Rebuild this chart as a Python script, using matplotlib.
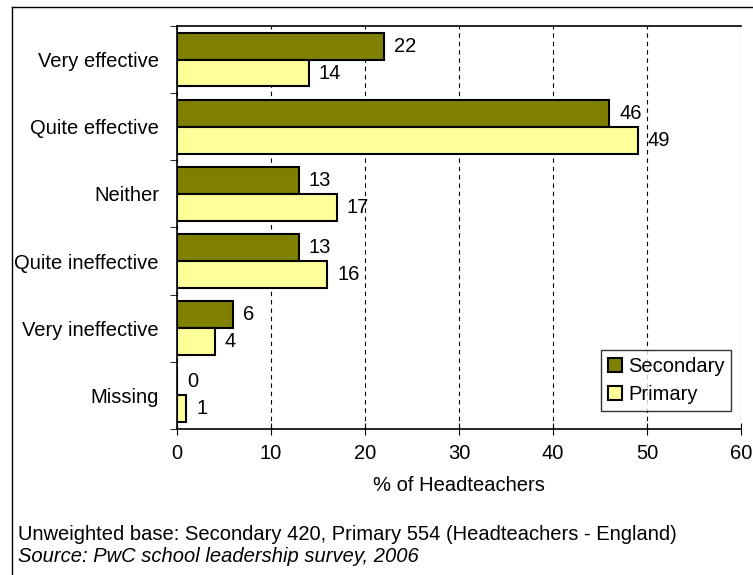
import numpy as np
import matplotlib.pyplot as plt
from matplotlib.lines import Line2D

plt.rcParams['font.family'] = ['Liberation Sans', 'DejaVu Sans']

# data
categories = ["Very effective", "Quite effective", "Neither",
              "Quite ineffective", "Very ineffective", "Missing"]
secondary = [22, 46, 13, 13, 6, 0]
primary = [14, 49, 17, 16, 4, 1]

FS = 14.5

fig = plt.figure(figsize=(7.53, 5.75), dpi=100)
ax = fig.add_axes([0.2351, 0.2539, 0.7490, 0.7009])

y = np.arange(len(categories))
h = 0.4
ax.barh(y - h / 2, secondary, height=h, color="#808000", edgecolor="black",
        linewidth=1.5, label="Secondary")
ax.barh(y + h / 2, primary, height=h, color="#FFFF99", edgecolor="black",
        linewidth=1.5, label="Primary")

# value labels
for i in range(len(categories)):
    ax.annotate(str(secondary[i]), (secondary[i], y[i] - h / 2),
                xytext=(7, 0), textcoords="offset points",
                va="center", ha="left", fontsize=FS)
    ax.annotate(str(primary[i]), (primary[i], y[i] + h / 2),
                xytext=(7, 0), textcoords="offset points",
                va="center", ha="left", fontsize=FS)

ax.set_xlim(0, 60)
ax.set_ylim(len(categories) - 0.5, -0.5)
ax.set_xticks(range(0, 61, 10))
ax.tick_params(axis="x", labelsize=FS, length=9, direction="inout", pad=6)
ax.set_yticks(y)
ax.set_yticklabels(categories, fontsize=FS)
ax.tick_params(axis="y", length=0, pad=13)
ax.set_yticks(np.arange(-0.5, len(categories), 1), minor=True)
ax.tick_params(axis="y", which="minor", length=5, direction="out")

ax.xaxis.grid(True, linestyle=(0, (4, 3.5)), color="black", linewidth=0.8)
ax.set_axisbelow(True)
ax.spines["right"].set_visible(False)
for s in ["top", "left", "bottom"]:
    ax.spines[s].set_linewidth(1.2)

ax.set_xlabel("% of Headteachers", fontsize=FS, labelpad=10)

leg = ax.legend(loc="lower right", bbox_to_anchor=(0.983, 0.045), fontsize=FS,
                frameon=True, fancybox=False, edgecolor="black",
                handlelength=0.7, handleheight=0.7, handletextpad=0.3,
                borderpad=0.35, labelspacing=0.45, borderaxespad=0)
leg.get_frame().set_linewidth(1)

fig.text(0.024, 1 - 535 / 575, "Unweighted base: Secondary 420, Primary 554 (Headteachers - England)",
         fontsize=FS, va="center")
fig.text(0.024, 1 - 557 / 575, "Source: PwC school leadership survey, 2006",
         fontsize=FS, style="italic", va="center")

# outer frame (top and left edges)
fig.add_artist(Line2D([12 / 753, 1.0], [1 - 7 / 575, 1 - 7 / 575],
                      transform=fig.transFigure, color="black", linewidth=1))
fig.add_artist(Line2D([12 / 753, 12 / 753], [0.0, 1 - 7 / 575],
                      transform=fig.transFigure, color="black", linewidth=1))

fig.savefig("out.png", dpi=100)
